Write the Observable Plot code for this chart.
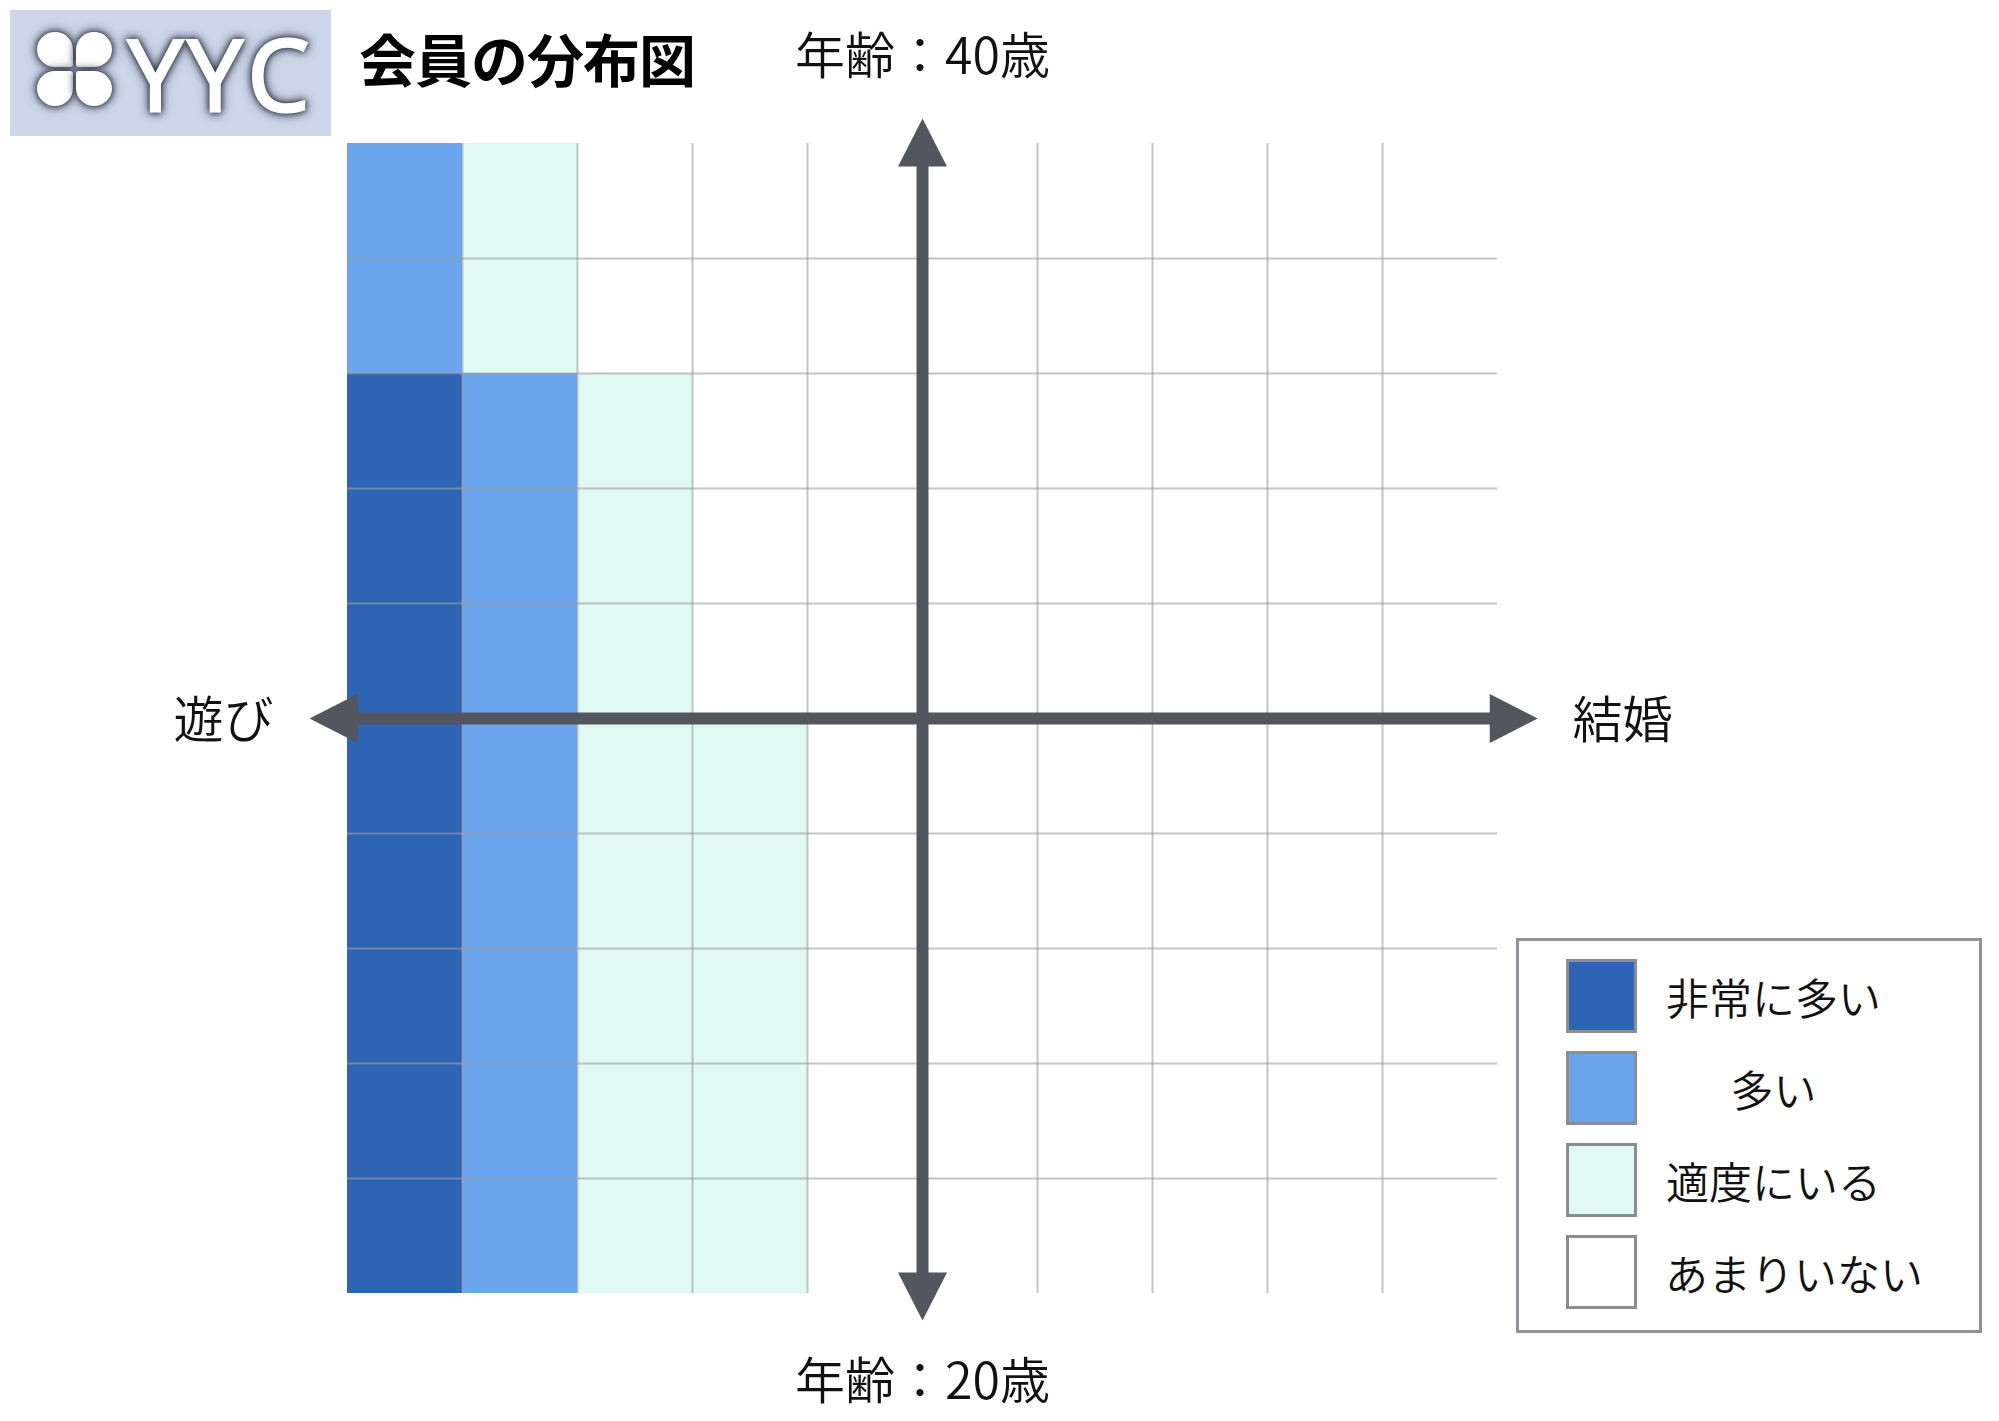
<!DOCTYPE html>
<html lang="ja">
<head>
<meta charset="utf-8">
<script src="https://cdn.jsdelivr.net/npm/d3@7"></script>
<script src="https://cdn.jsdelivr.net/npm/@observablehq/plot@0.6"></script>
<style>
  html, body { margin: 0; padding: 0; background: #fff; }
  #wrap { position: relative; width: 1999px; height: 1421px; overflow: hidden; font-family: "Noto Sans CJK JP", "Noto Sans", sans-serif; }
  #chart { position: absolute; left: 0; top: 0; }
  #logo { position: absolute; left: 10px; top: 10px; width: 321px; height: 126px; background: #cdd6e8; }
  #logo .lobe { position: absolute; width: 36px; height: 35px; background: #fff; filter: drop-shadow(0 0 3px #2a2f40) drop-shadow(0 0 5px #50566a); }
  #logo .yyc { position: absolute; left: 118px; top: 3px; font-family: "Open Sans", sans-serif; font-weight: 400; font-size: 98px; line-height: 120px; color: #fff; letter-spacing: 5px; -webkit-text-stroke: 3px #fff; filter: drop-shadow(0 0 3px #2a2f40) drop-shadow(0 0 5px #50566a); }
  #title { position: absolute; left: 359px; top: 18px; font-size: 57px; font-weight: 700; line-height: 78px; color: #000; letter-spacing: -1px; }
  #legend { position: absolute; left: 1516px; top: 938px; width: 460px; height: 389px; border: 3px solid #8e9196; background: #fff; }
  #legend .sw { position: absolute; left: 47px; width: 65px; height: 68px; border: 3px solid #8a8d92; }
  #legend .lb { position: absolute; left: 146px; width: 217px; text-align: center; white-space: nowrap; font-size: 43px; font-weight: 350; line-height: 50px; color: #111; }
</style>
</head>
<body>
<div id="wrap">
  <div id="chart"></div>
  <div id="logo">
    <div class="lobe" style="left:27px;top:22px;border-radius:50% 50% 8% 50%;"></div>
    <div class="lobe" style="left:66px;top:22px;border-radius:50% 50% 50% 8%;"></div>
    <div class="lobe" style="left:27px;top:61px;border-radius:50% 8% 50% 50%;"></div>
    <div class="lobe" style="left:66px;top:61px;border-radius:8% 50% 50% 50%;"></div>
    <div class="yyc">YYC</div>
  </div>
  <div id="title">会員の分布図</div>
  <div id="legend"></div>
</div>
<script>
// ---- data ----
const levels = ["非常に多い", "多い", "適度にいる", "あまりいない"];
const levelColors = ["#2d64b4", "#6ba5ee", "#e0faf3", "#ffffff"];
const columns = [0, 1, 2, 3, 4, 5, 6, 7, 8, 9];          // 遊び (left) → 結婚 (right)
const rowAges = [38, 36, 34, 32, 30, 28, 26, 24, 22, 20]; // lower age of each row, top → bottom
const rowSpan = 2;
const rowLevels = [
  [1, 2, 3, 3, 3, 3, 3, 3, 3, 3],
  [1, 2, 3, 3, 3, 3, 3, 3, 3, 3],
  [0, 1, 2, 3, 3, 3, 3, 3, 3, 3],
  [0, 1, 2, 3, 3, 3, 3, 3, 3, 3],
  [0, 1, 2, 3, 3, 3, 3, 3, 3, 3],
  [0, 1, 2, 2, 3, 3, 3, 3, 3, 3],
  [0, 1, 2, 2, 3, 3, 3, 3, 3, 3],
  [0, 1, 2, 2, 3, 3, 3, 3, 3, 3],
  [0, 1, 2, 2, 3, 3, 3, 3, 3, 3],
  [0, 1, 2, 2, 3, 3, 3, 3, 3, 3]
];
const ageMin = 20, ageMax = 40;
const axisTop = "年齢：40歳", axisBottom = "年齢：20歳", axisLeft = "遊び", axisRight = "結婚";

// ---- derived tables ----
const nCols = columns.length;
const cells = rowAges.flatMap((age, r) => columns.map((c) => ({col: c, age, level: levels[rowLevels[r][c]]})));
const xMid = nCols / 2, yMid = (ageMin + ageMax) / 2;
const shafts = [
  {x1: 0, y1: yMid, x2: nCols, y2: yMid},
  {x1: xMid, y1: ageMin, x2: xMid, y2: ageMax}
];
const heads = [
  {x: -0.33, y: yMid, rotate: -90},
  {x: nCols + 0.35, y: yMid, rotate: 90},
  {x: xMid, y: ageMax + 0.435, rotate: 0},
  {x: xMid, y: ageMin - 0.47, rotate: 180}
];
const headSymbol = {
  draw(ctx) { ctx.moveTo(0, 0); ctx.lineTo(-24.5, 48); ctx.lineTo(24.5, 48); ctx.closePath(); }
};
const axisColor = "#53565e";
const gridStyle = {stroke: "#9e9e9e", strokeOpacity: 0.6, strokeWidth: 2};
const labelFont = {fontFamily: "Noto Sans CJK JP", fontSize: 50, fontWeight: 350, fill: "#111", lineAnchor: "middle"};

const chart = Plot.plot({
  width: 1999,
  height: 1421,
  marginLeft: 347,
  marginRight: 502,
  marginTop: 143,
  marginBottom: 128,
  x: {domain: [0, nCols], axis: null},
  y: {domain: [ageMin, ageMax], axis: null},
  color: {domain: levels, range: levelColors},
  style: {background: "transparent", fontFamily: "Noto Sans CJK JP"},
  marks: [
    Plot.rect(cells, {x1: "col", x2: (d) => d.col + 1, y1: "age", y2: (d) => d.age + rowSpan, fill: "level"}),
    Plot.ruleX(columns.slice(1), {y1: ageMin, y2: ageMax, ...gridStyle}),
    Plot.ruleY(rowAges.slice(0, -1), {x1: 0, x2: nCols, ...gridStyle}),
    Plot.link(shafts, {x1: "x1", y1: "y1", x2: "x2", y2: "y2", stroke: axisColor, strokeWidth: 12}),
    Plot.dot(heads, {x: "x", y: "y", rotate: "rotate", symbol: headSymbol, r: 20, fill: axisColor, stroke: null}),
    Plot.text([axisTop], {x: xMid, frameAnchor: "top", dy: -86, ...labelFont}),
    Plot.text([axisBottom], {x: xMid, frameAnchor: "bottom", dy: 89, ...labelFont}),
    Plot.text([axisLeft], {y: yMid, frameAnchor: "left", dx: -124, dy: 3, textAnchor: "middle", ...labelFont}),
    Plot.text([axisRight], {y: yMid, frameAnchor: "right", dx: 125, dy: 3, textAnchor: "middle", ...labelFont})
  ]
});
document.getElementById("chart").appendChild(chart);

// ---- legend ----
const legend = document.getElementById("legend");
levels.forEach((lv, i) => {
  const top = 18 + i * 92;
  const sw = document.createElement("div");
  sw.className = "sw";
  sw.style.top = top + "px";
  sw.style.background = levelColors[i];
  legend.appendChild(sw);
  const lb = document.createElement("div");
  lb.className = "lb";
  lb.style.top = (top + 12) + "px";
  lb.textContent = lv;
  legend.appendChild(lb);
});
</script>
</body>
</html>
